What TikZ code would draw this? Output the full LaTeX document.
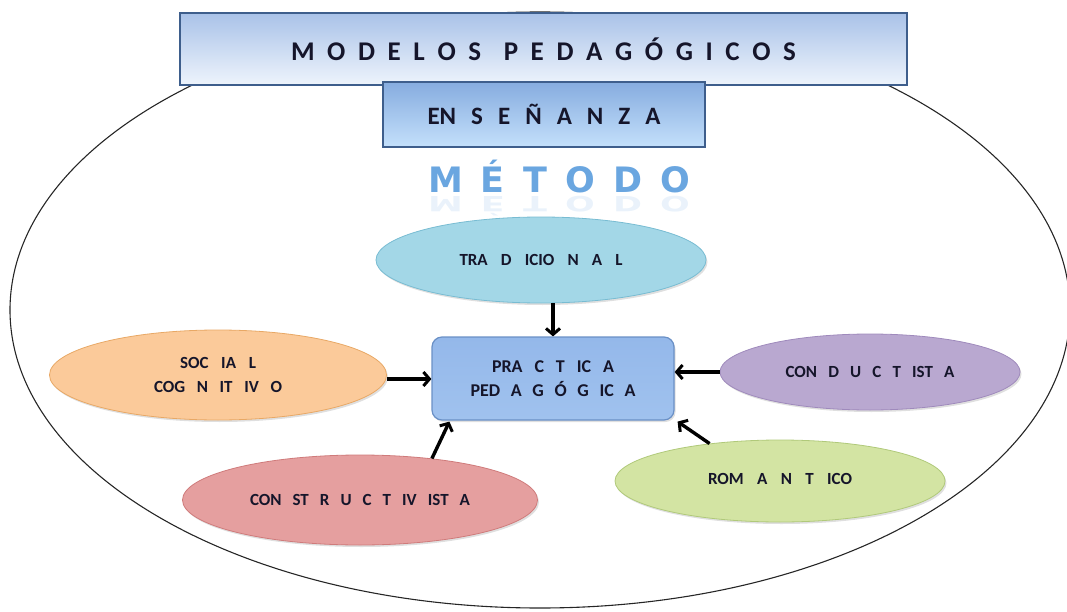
\documentclass[tikz,border=0pt]{standalone}
\usepackage{fontspec}
\setmainfont{Carlito}
\newfontfamily\metfont{DejaVu Sans}
\usetikzlibrary{shapes.geometric,arrows.meta,shadows,calc}
\newcommand\spr[2]{\makebox[#1][s]{#2}}
\definecolor{titletop}{HTML}{A9C2E8}
\definecolor{titlebot}{HTML}{EEF4FC}
\definecolor{boxborder}{HTML}{3E5E8C}
\definecolor{enstop}{HTML}{86ACDF}
\definecolor{ensbot}{HTML}{C4E0FB}
\definecolor{pracfill}{HTML}{94B8EA}
\definecolor{pracborder}{HTML}{6A90C6}
\definecolor{tradfill}{HTML}{A3D7E7}
\definecolor{tradborder}{HTML}{78BCD2}
\definecolor{socfill}{HTML}{FBCA9A}
\definecolor{socborder}{HTML}{E8A865}
\definecolor{condfill}{HTML}{B9A8D0}
\definecolor{condborder}{HTML}{9F8ABC}
\definecolor{romfill}{HTML}{D3E4A3}
\definecolor{romborder}{HTML}{B0C97A}
\definecolor{consfill}{HTML}{E59F9F}
\definecolor{consborder}{HTML}{CF7B7B}
\definecolor{metcol}{HTML}{6AA6E0}
\definecolor{txt}{HTML}{15152A}
\tikzset{
  oval/.style={ellipse, inner sep=0pt, line width=0.8pt, font=\fontsize{17}{20}\selectfont\bfseries, text=txt,
    drop shadow={opacity=0.25, shadow xshift=1.5pt, shadow yshift=-2pt}},
  bigbox/.style={rectangle, draw=boxborder, line width=1.2pt, inner sep=0pt, text=txt},
  arr/.style={draw=black, line width=3.4pt, -{Straight Barb[length=6pt,width=14pt,line width=3pt]}}
}
\begin{document}
\begin{tikzpicture}[x=1pt,y=-1pt]
\useasboundingbox (0,0) rectangle (1067,612);
% outer ellipse
\draw[line width=1.1pt, black!85] (540,310) ellipse [x radius=530pt, y radius=298pt];
% title boxes
\node[bigbox, top color=titletop, bottom color=titlebot, minimum width=727pt, minimum height=72pt,
  font=\fontsize{27}{32}\selectfont\bfseries] (title) at (543.5,49)
  {\spr{505pt}{M O D E L O S\hspace{10pt} P E D A G Ó G I C O S}};
\node[bigbox, top color=enstop, bottom color=ensbot, minimum width=322pt, minimum height=65pt,
  font=\fontsize{25}{30}\selectfont\bfseries] (ens) at (544,114.5)
  {\spr{233pt}{EN S E Ñ A N Z A}};
% metodo
\node[text=metcol, font=\metfont\fontsize{35}{38}\selectfont\bfseries, inner sep=0pt, anchor=base] (met) at (559,193)
  {\spr{262pt}{M É T O D O}};
\node[text=metcol, text opacity=0.14, font=\metfont\fontsize{35}{38}\selectfont\bfseries, inner sep=0pt, anchor=north] (metr) at (559,196)
  {\scalebox{1}[-0.6]{\spr{262pt}{M É T O D O}}};
% ellipses
\node[oval, fill=tradfill, draw=tradborder, minimum width=330pt, minimum height=86pt] (trad) at (541,260)
  {\spr{163pt}{TRA D ICIO N A L}};
\node[oval, fill=socfill, draw=socborder, minimum width=337pt, minimum height=90pt, align=center] (soc) at (218,375)
  {\spr{76pt}{SOC IA L}\\[4pt]\spr{128pt}{COG N IT IV O}};
\node[oval, fill=condfill, draw=condborder, minimum width=300pt, minimum height=76pt] (cond) at (870,372)
  {\spr{169pt}{CON D U C T IST A}};
\node[oval, fill=romfill, draw=romborder, minimum width=330pt, minimum height=82pt] (rom) at (780,481)
  {\raisebox{5pt}{\spr{144pt}{ROM A N T ICO}}};
\node[oval, fill=consfill, draw=consborder, minimum width=355pt, minimum height=90pt] (cons) at (360,500)
  {\spr{220pt}{CON ST R U C T IV IST A}};
% practica
\node[rectangle, rounded corners=10pt, top color=pracfill, bottom color=pracfill!75!ensbot, draw=pracborder, line width=1.2pt,
  minimum width=242pt, minimum height=83pt, inner sep=0pt, align=center, text=txt,
  font=\fontsize{18}{21}\selectfont\bfseries,
  drop shadow={opacity=0.25, shadow xshift=1.5pt, shadow yshift=-2pt}] (prac) at (553,378.5)
  {\spr{122pt}{PRA C T IC A}\\[3pt]\spr{165pt}{PED A G Ó G IC A}};
% arrows
\draw[arr] (trad.south -| prac.north) -- (prac.north);
\draw[arr] ([yshift=-4pt]soc.east) -- ([yshift=-4pt]soc.east -| prac.west);
\draw[arr] (cond.west) -- (cond.west -| prac.east);
\draw[arr] (rom.152) -- ([xshift=3pt,yshift=-1pt]prac.south east);
\draw[arr] (cons.30) -- ([xshift=18pt,yshift=-1pt]prac.south west);
\end{tikzpicture}
\end{document}
